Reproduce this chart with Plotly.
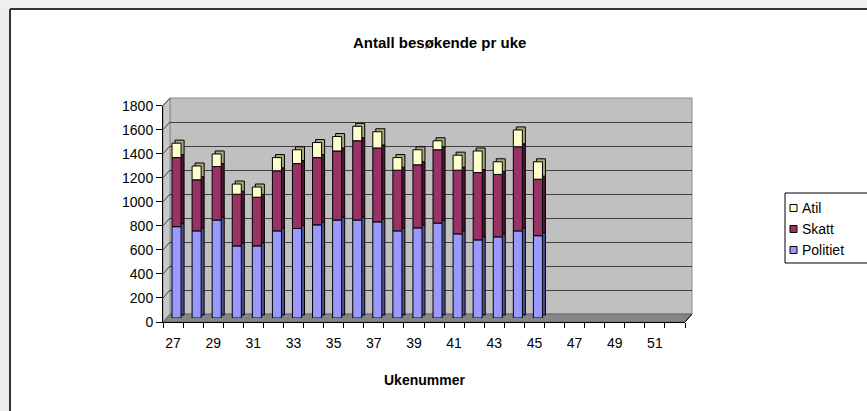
import plotly.graph_objects as go

# ---------------- data ----------------
weeks = list(range(27, 46))
politiet = [760, 725, 815, 600, 600, 725, 745, 775, 815, 815, 800, 725, 750, 790, 700, 650, 675, 725, 685]
skatt = [575, 425, 445, 430, 405, 500, 540, 560, 575, 660, 615, 505, 525, 610, 530, 560, 520, 700, 470]
atil = [120, 115, 105, 85, 85, 110, 115, 125, 120, 120, 135, 105, 125, 75, 125, 180, 105, 140, 145]
axis_weeks = list(range(27, 53))
label_weeks = list(range(27, 53, 2))
tick_labels = [str(w) for w in label_weeks]
y_ticks = list(range(0, 1801, 200))
legend_names = ["Atil", "Skatt", "Politiet"]

# ---------------- geometry (pixels of the 867x411 page) ----------------
W, H = 867, 411
FONT = "Liberation Sans, Arial, sans-serif"


def px(x):
    return x / W


def py(y):
    return 1 - y / H


front = dict(x0=163, x1=685, yb=322, yt=105.7)   # front edge of the 3D box
back = dict(x0=170, x1=692, yb=314, yt=98)       # back wall
mid = dict(x0=166.5, x1=688.5, yb=318, yt=101.7)  # plane of the bars

BAR_W = 0.45
DEPTH_X = 0.15   # category units
DEPTH_Y = 25     # value units

n = len(weeks)
base_p = [0] * n
base_s = [p for p in politiet]
base_a = [p + s for p, s in zip(politiet, skatt)]

series = [
    ("Politiet", politiet, base_p, "#9999FF", "#4F4F8C"),
    ("Skatt", skatt, base_s, "#993366", "#4A1830"),
    ("Atil", atil, base_a, "#FFFFCC", "#A9A97E"),
]
colors = {name: col for name, _, _, col, _ in series}

fig = go.Figure()

# depth blocks (side/top faces)
for name, vals, bases, col, dcol in series:
    fig.add_trace(go.Bar(
        x=weeks, y=vals, base=[b + DEPTH_Y for b in bases],
        width=BAR_W, offset=-BAR_W / 2 + DEPTH_X,
        marker=dict(color=dcol, line=dict(color="black", width=1)),
        xaxis="x3", yaxis="y3", showlegend=False, hoverinfo="skip",
    ))

# front faces
for name, vals, bases, col, dcol in series:
    fig.add_trace(go.Bar(
        x=weeks, y=vals, base=bases, name=name,
        width=BAR_W, offset=-BAR_W / 2,
        marker=dict(color=col, line=dict(color="black", width=1)),
        xaxis="x3", yaxis="y3", showlegend=False,
    ))

# empty helpers so the other frames exist
fig.add_trace(go.Scatter(x=[], y=[], xaxis="x", yaxis="y", showlegend=False))
fig.add_trace(go.Scatter(x=[], y=[], xaxis="x2", yaxis="y2", showlegend=False))

xr = [axis_weeks[0] - 0.5, axis_weeks[-1] + 0.5]
yr = [0, 1800]

shapes = []
annotations = []
# slide background strips outside the chart area
shapes.append(dict(type="rect", xref="paper", yref="paper", x0=0, x1=px(9), y0=0, y1=1,
                   fillcolor="#EDEDED", line=dict(width=0), layer="below"))
shapes.append(dict(type="rect", xref="paper", yref="paper", x0=0, x1=1, y0=py(8), y1=1,
                   fillcolor="#EFEFEF", line=dict(width=0), layer="below"))
# chart-area border
shapes.append(dict(type="line", xref="paper", yref="paper", x0=px(10), x1=px(10), y0=0, y1=py(9),
                   line=dict(color="#333333", width=2), layer="below"))
shapes.append(dict(type="line", xref="paper", yref="paper", x0=px(10), x1=1, y0=py(9), y1=py(9),
                   line=dict(color="#333333", width=2), layer="below"))
# back wall
shapes.append(dict(type="rect", xref="paper", yref="paper",
                   x0=px(back["x0"]), x1=px(back["x1"]), y0=py(back["yb"]), y1=py(back["yt"]),
                   fillcolor="#C0C0C0", line=dict(color="#8A8A8A", width=1), layer="below"))
# side wall
shapes.append(dict(type="path", xref="paper", yref="paper",
                   path=f"M{px(front['x0'])},{py(front['yb'])} L{px(front['x0'])},{py(front['yt'])} "
                        f"L{px(back['x0'])},{py(back['yt'])} L{px(back['x0'])},{py(back['yb'])} Z",
                   fillcolor="#C8C8C8", line=dict(color="#8A8A8A", width=1), layer="below"))
# side-wall gridlines
for v in y_ticks[1:]:
    yf = front["yb"] + (front["yt"] - front["yb"]) * v / 1800
    yb = back["yb"] + (back["yt"] - back["yb"]) * v / 1800
    shapes.append(dict(type="line", xref="paper", yref="paper",
                       x0=px(front["x0"]), y0=py(yf), x1=px(back["x0"]), y1=py(yb),
                       line=dict(color="#404040", width=1), layer="below"))
# floor
shapes.append(dict(type="path", xref="paper", yref="paper",
                   path=f"M{px(front['x0'])},{py(front['yb'])} L{px(back['x0'])},{py(back['yb'])} "
                        f"L{px(back['x1'])},{py(back['yb'])} L{px(front['x1'])},{py(front['yb'])} Z",
                   fillcolor="#858585", line=dict(color="#6A6A6A", width=1), layer="below"))
# right end of floor edge
shapes.append(dict(type="line", xref="paper", yref="paper",
                   x0=px(front["x1"]), y0=py(front["yb"]), x1=px(back["x1"]), y1=py(back["yb"]),
                   line=dict(color="black", width=1)))

# legend (box runs off the right edge as in the original)
LEG = dict(x0=785, x1=900, y0=193, y1=263, row0=208, row_gap=21, sym_x=790, sym_w=7, text_x=800)
shapes.append(dict(type="rect", xref="paper", yref="paper",
                   x0=px(LEG["x0"]), x1=px(LEG["x1"]), y0=py(LEG["y1"]), y1=py(LEG["y0"]),
                   fillcolor="white", line=dict(color="black", width=1)))
for i, name in enumerate(legend_names):
    yc = LEG["row0"] + i * LEG["row_gap"]
    shapes.append(dict(type="rect", xref="paper", yref="paper",
                       x0=px(LEG["sym_x"]), x1=px(LEG["sym_x"] + LEG["sym_w"]),
                       y0=py(yc + LEG["sym_w"] / 2), y1=py(yc - LEG["sym_w"] / 2),
                       fillcolor=colors[name], line=dict(color="black", width=1)))
    annotations.append(dict(text=name, x=px(LEG["text_x"]), y=py(yc), xref="paper", yref="paper",
                            xanchor="left", yanchor="middle", showarrow=False,
                            font=dict(family=FONT, size=14, color="black")))

annotations.append(dict(text="<b>Antall besøkende pr uke</b>", x=px(440), y=py(43),
                        xref="paper", yref="paper", xanchor="center", yanchor="middle",
                        showarrow=False, font=dict(family=FONT, size=15, color="black")))
annotations.append(dict(text="<b>Ukenummer</b>", x=px(424), y=py(380), xref="paper", yref="paper",
                        xanchor="center", yanchor="middle", showarrow=False,
                        font=dict(family=FONT, size=14, color="black")))

fig.update_layout(
    width=W, height=H,
    margin=dict(l=0, r=0, t=0, b=0, autoexpand=False),
    paper_bgcolor="white",
    plot_bgcolor="rgba(0,0,0,0)",
    barmode="overlay",
    font=dict(family=FONT, size=13, color="black"),
    showlegend=False,
    shapes=shapes,
    annotations=annotations,
    xaxis=dict(domain=[px(front["x0"]), px(front["x1"])], range=xr, anchor="y",
               tickmode="array", tickvals=label_weeks, ticktext=tick_labels,
               ticks="outside", ticklen=8, tickcolor="rgba(0,0,0,0)",
               minor=dict(tickmode="array", tickvals=[w - 0.5 for w in axis_weeks] + [axis_weeks[-1] + 0.5],
                          ticks="outside", ticklen=5, tickcolor="black", showgrid=False),
               showline=True, linecolor="black", linewidth=1, showgrid=False, zeroline=False,
               tickfont=dict(size=14), fixedrange=True),
    yaxis=dict(domain=[py(front["yb"]), py(front["yt"])], range=yr, anchor="x",
               tickmode="array", tickvals=y_ticks, ticks="outside", ticklen=6, tickcolor="black",
               showline=True, linecolor="black", linewidth=1, showgrid=False, zeroline=False,
               tickfont=dict(size=14), fixedrange=True),
    xaxis2=dict(domain=[px(back["x0"]), px(back["x1"])], range=xr, anchor="y2",
                showticklabels=False, showgrid=False, zeroline=False, showline=False, ticks=""),
    yaxis2=dict(domain=[py(back["yb"]), py(back["yt"])], range=yr, anchor="x2",
                tickmode="array", tickvals=y_ticks, showticklabels=False, ticks="",
                showgrid=True, gridcolor="#404040", gridwidth=1, zeroline=False, showline=False),
    xaxis3=dict(domain=[px(mid["x0"]), px(mid["x1"])], range=xr, anchor="y3", visible=False),
    yaxis3=dict(domain=[py(mid["yb"]), py(mid["yt"])], range=yr, anchor="x3", visible=False),
)

fig.write_html("out.html",
               config={"displayModeBar": False},
               post_script="document.body.style.margin='0';document.body.style.overflow='hidden';")
